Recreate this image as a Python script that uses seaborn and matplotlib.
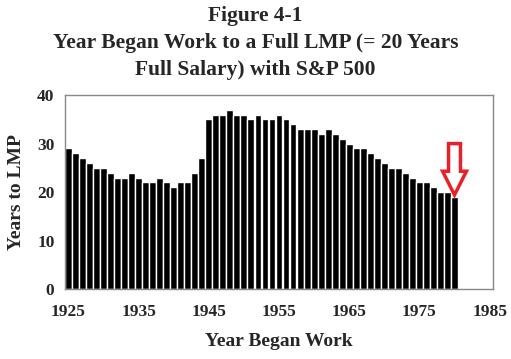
import numpy as np
import pandas as pd
import matplotlib
matplotlib.use("Agg")
import matplotlib.pyplot as plt
from matplotlib.patches import FancyArrow
from matplotlib.ticker import MultipleLocator
import seaborn as sns

# Data
YEARS = list(range(1925, 1981))
YEARS_TO_LMP = [
    29, 28, 27, 26, 25, 25, 24, 23, 23, 24,
    23, 22, 22, 23, 22, 21, 22, 22, 24, 27,
    35, 36, 36, 37, 36, 36, 35, 36, 35, 35,
    36, 35, 34, 33, 33, 33, 32, 33, 32, 31,
    30, 29, 29, 28, 27, 26, 25, 25, 24, 23,
    22, 22, 21, 20, 20, 19,
]
X_TICKS = [1925, 1935, 1945, 1955, 1965, 1975, 1985]

TITLE = "Figure 4-1\nYear Began Work to a Full LMP (= 20 Years\nFull Salary) with S&P 500"

sns.set_style("white")
plt.rcParams['font.family'] = ['Liberation Serif', 'DejaVu Serif']
plt.rcParams['font.weight'] = 'bold'

df = pd.DataFrame({'year': YEARS, 'value': YEARS_TO_LMP})

fig = plt.figure(figsize=(5.11, 3.59), dpi=100)
ax = fig.add_axes([0.127, 0.195, 0.838, 0.54])

sns.barplot(data=df, x='year', y='value', native_scale=True,
            color='black', saturation=1, width=0.98, ax=ax)

ax.set_xlim(1924.5, 1985.5)
ax.set_ylim(0, 40)
ax.set_xticks(X_TICKS)
ax.set_xticklabels([str(t) for t in X_TICKS])
ax.xaxis.set_minor_locator(MultipleLocator(1, offset=0.5))
ax.yaxis.set_major_locator(MultipleLocator(10))
ax.tick_params(axis='x', which='major', length=0, labelsize=12.5, pad=11)
ax.tick_params(axis='x', which='minor', length=3, color='#888888', direction='out')
ax.tick_params(axis='y', which='major', length=4, color='#888888', labelsize=12.5, direction='out')
for lbl in ax.get_xticklabels() + ax.get_yticklabels():
    lbl.set_fontweight('bold')

for side in ['left', 'right', 'top', 'bottom']:
    ax.spines[side].set_visible(True)
    ax.spines[side].set_color('#888888')
    ax.spines[side].set_linewidth(1.0)

ax.set_xlabel('Year Began Work', fontsize=14, fontweight='bold', labelpad=9)
ax.set_ylabel('Years to LMP', fontsize=14, fontweight='bold', labelpad=9)

fig.suptitle(TITLE, fontsize=15.5, fontweight='bold', y=0.982, linespacing=1.45)

# red hollow arrow pointing at the last bar
last_year, last_val = YEARS[-1], YEARS_TO_LMP[-1]
arrow = FancyArrow(last_year, last_val + 11, 0, -10.6, width=1.7,
                   head_width=3.4, head_length=4.9, length_includes_head=True,
                   fill=False, edgecolor='#e8202a', linewidth=2.5, clip_on=False)
ax.add_patch(arrow)

fig.savefig('out.png', dpi=100)
